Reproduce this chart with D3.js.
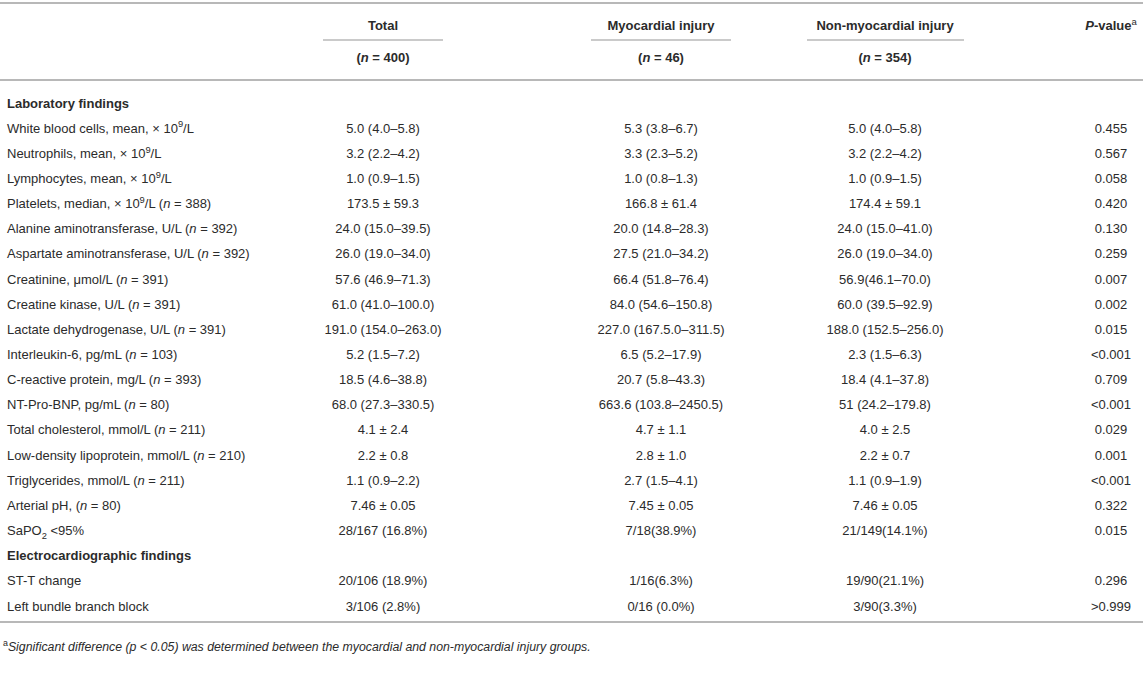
<!DOCTYPE html>
<html>
<head>
<meta charset="utf-8">
<script src="https://cdn.jsdelivr.net/npm/d3@7"></script>
<style>
  body { margin: 0; background: #fff; }
  svg { display: block; font-family: "Liberation Sans", Arial, sans-serif; }
</style>
</head>
<body>
<div id="tabla"></div>
<script>
// Column headers
const columnas = ["Total", "Myocardial injury", "Non-myocardial injury", "P-value"];
const grupos_n = ["(n = 400)", "(n = 46)", "(n = 354)", ""];

// Row labels ("^" = superscript next char, "_" = subscript next char)
const etiquetas = [
  "#Laboratory findings",
  "White blood cells, mean, × 10^9/L",
  "Neutrophils, mean, × 10^9/L",
  "Lymphocytes, mean, × 10^9/L",
  "Platelets, median, × 10^9/L (n = 388)",
  "Alanine aminotransferase, U/L (n = 392)",
  "Aspartate aminotransferase, U/L (n = 392)",
  "Creatinine, μmol/L (n = 391)",
  "Creatine kinase, U/L (n = 391)",
  "Lactate dehydrogenase, U/L (n = 391)",
  "Interleukin-6, pg/mL (n = 103)",
  "C-reactive protein, mg/L (n = 393)",
  "NT-Pro-BNP, pg/mL (n = 80)",
  "Total cholesterol, mmol/L (n = 211)",
  "Low-density lipoprotein, mmol/L (n = 210)",
  "Triglycerides, mmol/L (n = 211)",
  "Arterial pH, (n = 80)",
  "SaPO_2 <95%",
  "#Electrocardiographic findings",
  "ST-T change",
  "Left bundle branch block"
];

const total = ["", "5.0 (4.0–5.8)", "3.2 (2.2–4.2)", "1.0 (0.9–1.5)", "173.5 ± 59.3",
  "24.0 (15.0–39.5)", "26.0 (19.0–34.0)", "57.6 (46.9–71.3)", "61.0 (41.0–100.0)",
  "191.0 (154.0–263.0)", "5.2 (1.5–7.2)", "18.5 (4.6–38.8)", "68.0 (27.3–330.5)",
  "4.1 ± 2.4", "2.2 ± 0.8", "1.1 (0.9–2.2)", "7.46 ± 0.05", "28/167 (16.8%)",
  "", "20/106 (18.9%)", "3/106 (2.8%)"];

const miocardica = ["", "5.3 (3.8–6.7)", "3.3 (2.3–5.2)", "1.0 (0.8–1.3)", "166.8 ± 61.4",
  "20.0 (14.8–28.3)", "27.5 (21.0–34.2)", "66.4 (51.8–76.4)", "84.0 (54.6–150.8)",
  "227.0 (167.5.0–311.5)", "6.5 (5.2–17.9)", "20.7 (5.8–43.3)", "663.6 (103.8–2450.5)",
  "4.7 ± 1.1", "2.8 ± 1.0", "2.7 (1.5–4.1)", "7.45 ± 0.05", "7/18(38.9%)",
  "", "1/16(6.3%)", "0/16 (0.0%)"];

const noMiocardica = ["", "5.0 (4.0–5.8)", "3.2 (2.2–4.2)", "1.0 (0.9–1.5)", "174.4 ± 59.1",
  "24.0 (15.0–41.0)", "26.0 (19.0–34.0)", "56.9(46.1–70.0)", "60.0 (39.5–92.9)",
  "188.0 (152.5–256.0)", "2.3 (1.5–6.3)", "18.4 (4.1–37.8)", "51 (24.2–179.8)",
  "4.0 ± 2.5", "2.2 ± 0.7", "1.1 (0.9–1.9)", "7.46 ± 0.05", "21/149(14.1%)",
  "", "19/90(21.1%)", "3/90(3.3%)"];

const pvalores = ["", "0.455", "0.567", "0.058", "0.420", "0.130", "0.259", "0.007", "0.002",
  "0.015", "<0.001", "0.709", "<0.001", "0.029", "0.001", "<0.001", "0.322", "0.015",
  "", "0.296", ">0.999"];

const nota = "^aSignificant difference (p < 0.05) was determined between the myocardial and non-myocardial injury groups.";

const width = 1143;
const height = 680;
const colorTexto = "#2b2b2b";
const colorLinea = "#b8b8b8";
const fs = 13;

const svg = d3.select("#tabla").append("svg")
  .attr("width", width)
  .attr("height", height);

// scales
const yScale = d3.scalePoint()
  .domain(d3.range(etiquetas.length))
  .range([103, 606]);

const xScale = d3.scaleOrdinal()
  .domain(columnas)
  .range([383, 661, 885, 1111]);

const subrayado = { "Total": [323, 443], "Myocardial injury": [591, 731], "Non-myocardial injury": [807, 964] };

// writes text with italic n, super/subscripts (dy in px so it returns to baseline)
function escribir(sel, texto, tam) {
  const partes = texto.split(/(\^.|_.|\bn(?= =)|\bp(?= <))/);
  let pendiente = 0;
  partes.forEach(p => {
    if (!p) return;
    let ts;
    if (p[0] === "^") {
      ts = sel.append("tspan").attr("dy", pendiente - tam * 0.4)
        .attr("font-size", tam * 0.72).attr("font-style", "normal").text(p[1]);
      pendiente = tam * 0.4;
      return;
    } else if (p[0] === "_") {
      ts = sel.append("tspan").attr("dy", pendiente + tam * 0.28)
        .attr("font-size", tam * 0.72).text(p[1]);
      pendiente = -tam * 0.28;
      return;
    } else if (p === "n" || p === "p") {
      ts = sel.append("tspan").attr("font-style", "italic").text(p);
    } else {
      ts = sel.append("tspan").text(p);
    }
    if (pendiente) { ts.attr("dy", pendiente); pendiente = 0; }
  });
}

// horizontal rules
const lineas = [3, 80, 622];
svg.selectAll("line.regla")
  .data(lineas)
  .enter()
  .append("line")
  .attr("class", "regla")
  .attr("x1", 0).attr("x2", width)
  .attr("y1", d => d).attr("y2", d => d)
  .attr("stroke", colorLinea)
  .attr("stroke-width", 2);

// header
const cab = svg.append("g").attr("font-weight", "bold").attr("fill", colorTexto).attr("font-size", fs);
columnas.forEach((c, i) => {
  const t = cab.append("text")
    .attr("x", xScale(c))
    .attr("y", 30)
    .attr("text-anchor", "middle");
  if (c === "P-value") {
    t.append("tspan").attr("font-style", "italic").text("P");
    t.append("tspan").text("-value");
    t.append("tspan").attr("dy", -5).attr("font-size", 9.5).attr("font-weight", "normal").text("a");
  } else {
    t.text(c);
    svg.append("line")
      .attr("x1", subrayado[c][0]).attr("x2", subrayado[c][1])
      .attr("y1", 40).attr("y2", 40)
      .attr("stroke", colorLinea)
      .attr("stroke-width", 1.5);
  }
  if (grupos_n[i]) {
    const t2 = cab.append("text")
      .attr("x", xScale(c))
      .attr("y", 62)
      .attr("text-anchor", "middle");
    escribir(t2, grupos_n[i], fs);
  }
});

// body
const cuerpo = svg.append("g").attr("fill", colorTexto).attr("font-size", fs);
const series = [total, miocardica, noMiocardica, pvalores];

etiquetas.forEach((e, i) => {
  const y = yScale(i) + 4.5;
  const t = cuerpo.append("text").attr("x", 7).attr("y", y);
  if (e[0] === "#") {
    t.attr("font-weight", "bold").text(e.slice(1));
  } else {
    escribir(t, e, fs);
  }
  series.forEach((s, j) => {
    if (!s[i]) return;
    cuerpo.append("text")
      .attr("x", xScale(columnas[j]))
      .attr("y", y)
      .attr("text-anchor", "middle")
      .text(s[i]);
  });
});

// footnote
const pie = svg.append("text")
  .attr("x", 3)
  .attr("y", 651)
  .attr("font-size", 12.3)
  .attr("font-style", "italic")
  .attr("fill", colorTexto);
escribir(pie, nota, 12.3);
</script>
</body>
</html>
